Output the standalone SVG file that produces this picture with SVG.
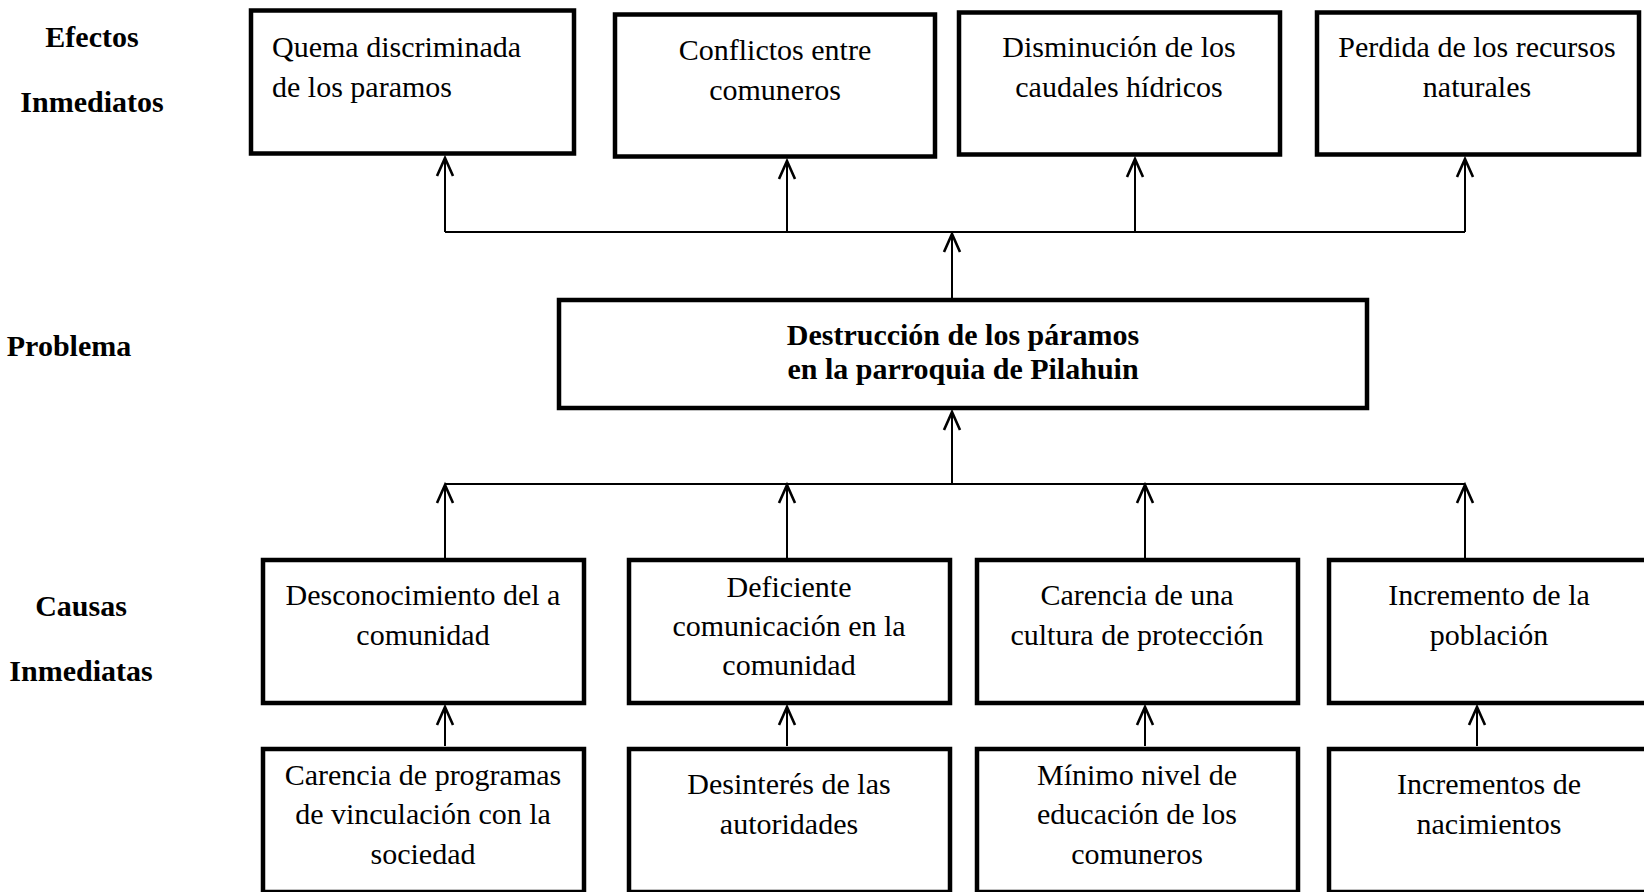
<svg xmlns="http://www.w3.org/2000/svg" width="1644" height="892" viewBox="0 0 1644 892">
<style>
.box{fill:#fff;stroke:#000;stroke-width:4.5}
.t{font-family:"Liberation Serif","Times New Roman",serif;font-size:30px;fill:#000}
.c{text-anchor:middle}
.b{font-weight:bold}
.ln{fill:none;stroke:#000;stroke-width:2}
.ah{fill:none;stroke:#000;stroke-width:2.6}
</style>
<defs>
<path id="ah" class="ah" d="M-8,18 L0,0 L8,18"/>
</defs>
<rect width="1644" height="892" fill="#fff"/>
<g id="labels" class="t b c">
<text x="92" y="47">Efectos</text>
<text x="92" y="112">Inmediatos</text>
<text x="69" y="356">Problema</text>
<text x="81" y="616">Causas</text>
<text x="81" y="681">Inmediatas</text>
</g>
<g id="connectors" class="ln">
<path d="M445,232 H1465"/>
<path d="M445,232 V158"/><use href="#ah" x="445" y="158"/>
<path d="M787,232 V161"/><use href="#ah" x="787" y="161"/>
<path d="M1135,232 V159"/><use href="#ah" x="1135" y="159"/>
<path d="M1465,232 V159"/><use href="#ah" x="1465" y="159"/>
<path d="M952,298 V234"/><use href="#ah" x="952" y="234"/>
<path d="M445,484 H1465"/>
<path d="M952,484 V412"/><use href="#ah" x="952" y="412"/>
<path d="M445,558 V485"/><use href="#ah" x="445" y="485"/>
<path d="M787,558 V485"/><use href="#ah" x="787" y="485"/>
<path d="M1145,558 V485"/><use href="#ah" x="1145" y="485"/>
<path d="M1465,558 V485"/><use href="#ah" x="1465" y="485"/>
<path d="M445,746 V707"/><use href="#ah" x="445" y="707"/>
<path d="M787,746 V707"/><use href="#ah" x="787" y="707"/>
<path d="M1145,746 V707"/><use href="#ah" x="1145" y="707"/>
<path d="M1477,746 V707"/><use href="#ah" x="1477" y="707"/>
</g>
<g id="e1"><rect class="box" x="251" y="10.5" width="323" height="143"/>
<text class="t" x="272" y="57">Quema discriminada</text><text class="t" x="272" y="97">de los paramos</text></g>
<g id="e2"><rect class="box" x="615" y="14.5" width="320" height="142"/>
<text class="t c" x="775" y="60">Conflictos entre</text><text class="t c" x="775" y="100">comuneros</text></g>
<g id="e3"><rect class="box" x="959" y="12.5" width="321" height="142"/>
<text class="t c" x="1119" y="57">Disminución de los</text><text class="t c" x="1119" y="97">caudales hídricos</text></g>
<g id="e4"><rect class="box" x="1317" y="12.5" width="322" height="142"/>
<text class="t c" x="1477" y="57">Perdida de los recursos</text><text class="t c" x="1477" y="97">naturales</text></g>
<g id="problema"><rect class="box" x="559" y="300" width="808" height="108"/>
<text class="t b c" x="963" y="345">Destrucción de los páramos</text><text class="t b c" x="963" y="379">en la parroquia de Pilahuin</text></g>
<g id="c1"><rect class="box" x="263" y="560" width="321" height="143"/>
<text class="t c" x="423" y="605">Desconocimiento del a</text><text class="t c" x="423" y="645">comunidad</text></g>
<g id="c2"><rect class="box" x="629" y="560" width="321" height="143"/>
<text class="t c" x="789" y="597">Deficiente</text><text class="t c" x="789" y="636">comunicación en la</text><text class="t c" x="789" y="675">comunidad</text></g>
<g id="c3"><rect class="box" x="977" y="560" width="321" height="143"/>
<text class="t c" x="1137" y="605">Carencia de una</text><text class="t c" x="1137" y="645">cultura de protección</text></g>
<g id="c4"><rect class="box" x="1329" y="560" width="330" height="143"/>
<text class="t c" x="1489" y="605">Incremento de la</text><text class="t c" x="1489" y="645">población</text></g>
<g id="s1"><rect class="box" x="263" y="749" width="321" height="143"/>
<text class="t c" x="423" y="785">Carencia de programas</text><text class="t c" x="423" y="824">de vinculación con la</text><text class="t c" x="423" y="864">sociedad</text></g>
<g id="s2"><rect class="box" x="629" y="749" width="321" height="143"/>
<text class="t c" x="789" y="794">Desinterés de las</text><text class="t c" x="789" y="834">autoridades</text></g>
<g id="s3"><rect class="box" x="977" y="749" width="321" height="143"/>
<text class="t c" x="1137" y="785">Mínimo nivel de</text><text class="t c" x="1137" y="824">educación de los</text><text class="t c" x="1137" y="864">comuneros</text></g>
<g id="s4"><rect class="box" x="1329" y="749" width="330" height="143"/>
<text class="t c" x="1489" y="794">Incrementos de</text><text class="t c" x="1489" y="834">nacimientos</text></g>
</svg>
